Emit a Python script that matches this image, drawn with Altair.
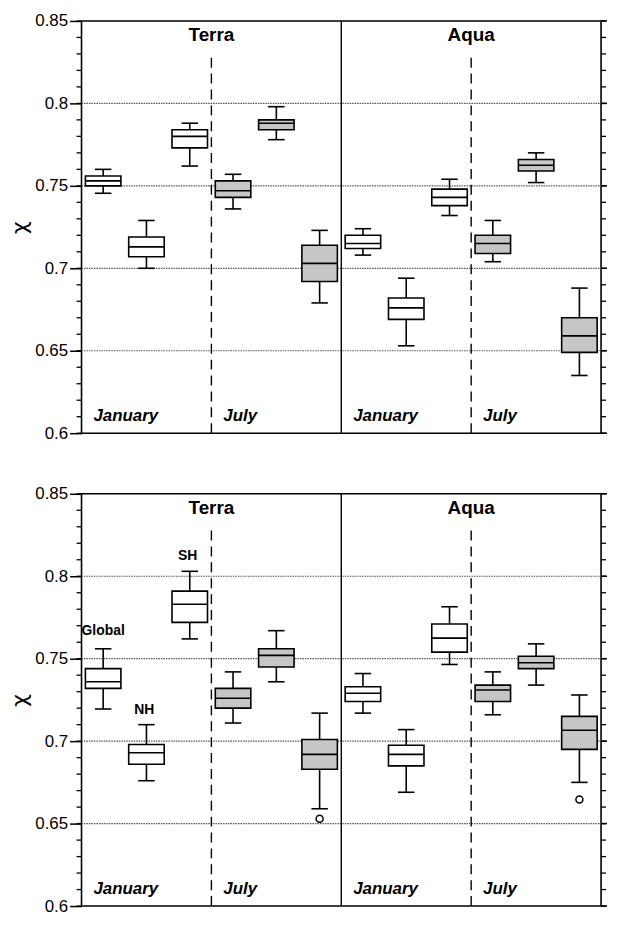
import altair as alt
import pandas as pd

# ---------------- data ----------------
satellites = ["Terra"] * 6 + ["Aqua"] * 6
months = (["January"] * 3 + ["July"] * 3) * 2
regions = ["Global", "NH", "SH"] * 4

# top panel (whisker low, Q1, median, Q3, whisker high)
top_lo  = [0.7455, 0.700, 0.762, 0.736, 0.778, 0.679, 0.708, 0.653, 0.732, 0.704, 0.752, 0.635]
top_q1  = [0.750, 0.707, 0.773, 0.743, 0.784, 0.692, 0.712, 0.669, 0.738, 0.709, 0.759, 0.649]
top_med = [0.753, 0.713, 0.780, 0.747, 0.788, 0.703, 0.715, 0.676, 0.743, 0.715, 0.7625, 0.659]
top_q3  = [0.756, 0.719, 0.784, 0.753, 0.790, 0.714, 0.720, 0.682, 0.748, 0.720, 0.766, 0.670]
top_hi  = [0.760, 0.729, 0.788, 0.757, 0.798, 0.723, 0.724, 0.694, 0.754, 0.729, 0.770, 0.688]

# bottom panel
bot_lo  = [0.7195, 0.676, 0.762, 0.711, 0.736, 0.659, 0.717, 0.669, 0.7465, 0.716, 0.734, 0.675]
bot_q1  = [0.732, 0.686, 0.772, 0.720, 0.745, 0.683, 0.724, 0.685, 0.754, 0.724, 0.744, 0.695]
bot_med = [0.736, 0.693, 0.783, 0.726, 0.752, 0.692, 0.729, 0.692, 0.7625, 0.731, 0.7475, 0.7066]
bot_q3  = [0.744, 0.698, 0.791, 0.732, 0.756, 0.701, 0.733, 0.6975, 0.771, 0.734, 0.7515, 0.715]
bot_hi  = [0.756, 0.710, 0.803, 0.742, 0.767, 0.717, 0.741, 0.707, 0.7815, 0.742, 0.759, 0.728]
bot_outlier_index = [5, 11]
bot_outlier_value = [0.653, 0.6646]

group_labels = ["January", "July", "January", "July"]
satellite_titles = ["Terra", "Aqua"]
region_label_values = [0.7665, 0.719, 0.8123]

y_ticks = [0.6, 0.65, 0.7, 0.75, 0.8, 0.85]
grid_values = [0.65, 0.7, 0.75, 0.8]
minor_ticks = [round(0.6 + 0.01 * i, 2) for i in range(26)]

# ---------------- style ----------------
W, H = 523, 415
FONT = "Liberation Sans"
GRAY = "#c6c6c6"
BOX_HALF = 0.41
CAP_HALF = 0.19
LW = 1.6

yscale = alt.Scale(domain=[0.6, 0.85], nice=False, zero=False)
xscale = alt.Scale(domain=[0, 12], nice=False, zero=False)


def panel(lo, q1, med, q3, hi, outliers=None, region_labels=False):
    pos = [i + 0.5 for i in range(12)]
    df = pd.DataFrame({
        "pos": pos, "lo": lo, "q1": q1, "med": med, "q3": q3, "hi": hi,
        "sat": satellites, "month": months, "region": regions,
    })
    df["fill"] = ["white" if m == "January" else GRAY for m in months]
    df["bl"] = df["pos"] - BOX_HALF
    df["br"] = df["pos"] + BOX_HALF
    df["cl"] = df["pos"] - CAP_HALF
    df["cr"] = df["pos"] + CAP_HALF

    base = alt.Chart(df)
    yax = alt.Axis(values=y_ticks, format=".2~f", tickSize=12, tickWidth=1.5,
                   tickColor="black", labelFontSize=17, labelFont=FONT,
                   labelColor="black", labelPadding=2, grid=False, domain=False,
                   title="χ", titleFontSize=22, titleFont="DejaVu Sans",
                   titleFontWeight="normal", titleColor="black", titlePadding=3)

    grid = alt.Chart(pd.DataFrame({"v": grid_values})).mark_rule(
        color="#555555", strokeDash=[1.5, 1], strokeWidth=1.2
    ).encode(y=alt.Y("v:Q", scale=yscale, axis=yax),
             x=alt.value(0), x2=alt.value(W))

    minor_df = pd.DataFrame({"v": minor_ticks})
    minor_df["major"] = [round(v * 100) % 5 == 0 for v in minor_ticks]
    left_minor = alt.Chart(minor_df).mark_rule(color="black", strokeWidth=1.3).encode(
        y=alt.Y("v:Q", scale=yscale), x=alt.value(-5), x2=alt.value(0))
    right_minor = alt.Chart(minor_df).mark_rule(color="black", strokeWidth=1.3).encode(
        y=alt.Y("v:Q", scale=yscale), x=alt.value(W), x2=alt.value(W + 5))
    right_major = alt.Chart(minor_df[minor_df["major"]]).mark_rule(
        color="black", strokeWidth=1.5).encode(
        y=alt.Y("v:Q", scale=yscale), x=alt.value(W), x2=alt.value(W + 6))

    vline_df = pd.DataFrame({"x": [6.0], "y1": [0.6], "y2": [0.85]})
    vsolid = alt.Chart(vline_df).mark_rule(color="black", strokeWidth=1.4).encode(
        x=alt.X("x:Q", scale=xscale, axis=None), y=alt.Y("y1:Q", scale=yscale),
        y2="y2:Q")
    dash_df = pd.DataFrame({"x": [3.0, 9.0], "y1": [0.6, 0.6], "y2": [0.8297, 0.8297]})
    vdash = alt.Chart(dash_df).mark_rule(color="black", strokeWidth=1.4,
                                         strokeDash=[10, 6]).encode(
        x=alt.X("x:Q", scale=xscale, axis=None), y=alt.Y("y1:Q", scale=yscale),
        y2="y2:Q")

    whisk_lo = base.mark_rule(color="black", strokeWidth=LW).encode(
        x=alt.X("pos:Q", scale=xscale, axis=None),
        y=alt.Y("lo:Q", scale=yscale), y2="q1:Q")
    whisk_hi = base.mark_rule(color="black", strokeWidth=LW).encode(
        x=alt.X("pos:Q", scale=xscale, axis=None),
        y=alt.Y("q3:Q", scale=yscale), y2="hi:Q")
    cap_lo = base.mark_rule(color="black", strokeWidth=LW).encode(
        x=alt.X("cl:Q", scale=xscale, axis=None), x2="cr:Q",
        y=alt.Y("lo:Q", scale=yscale))
    cap_hi = base.mark_rule(color="black", strokeWidth=LW).encode(
        x=alt.X("cl:Q", scale=xscale, axis=None), x2="cr:Q",
        y=alt.Y("hi:Q", scale=yscale))
    boxes = base.mark_rect(stroke="black", strokeWidth=LW).encode(
        x=alt.X("bl:Q", scale=xscale, axis=None), x2="br:Q",
        y=alt.Y("q1:Q", scale=yscale), y2="q3:Q",
        fill=alt.Fill("fill:N", scale=None))
    medians = base.mark_rule(color="black", strokeWidth=LW).encode(
        x=alt.X("bl:Q", scale=xscale, axis=None), x2="br:Q",
        y=alt.Y("med:Q", scale=yscale))

    sat_df = pd.DataFrame({"x": [3.0, 9.0], "y": [0.8415, 0.8415], "t": satellite_titles})
    sat_text = alt.Chart(sat_df).mark_text(fontSize=19, fontWeight="bold", font=FONT,
                                           color="black", align="center",
                                           baseline="middle").encode(
        x=alt.X("x:Q", scale=xscale, axis=None), y=alt.Y("y:Q", scale=yscale),
        text="t:N")
    mon_df = pd.DataFrame({"x": [0.0, 3.0, 6.0, 9.0], "y": [0.6105] * 4, "t": group_labels})
    mon_text = alt.Chart(mon_df).mark_text(fontSize=17, fontWeight="bold",
                                           fontStyle="italic", font=FONT, color="black",
                                           align="left", baseline="middle", dx=12).encode(
        x=alt.X("x:Q", scale=xscale, axis=None), y=alt.Y("y:Q", scale=yscale),
        text="t:N")

    layers = [grid, left_minor, right_minor, right_major, vsolid, vdash,
              whisk_lo, whisk_hi, cap_lo, cap_hi, boxes, medians, sat_text, mon_text]

    if outliers is not None:
        idx, vals = outliers
        odf = pd.DataFrame({"pos": [i + 0.5 for i in idx], "v": vals})
        layers.append(alt.Chart(odf).mark_point(shape="circle", filled=False, size=50,
                                                color="black", strokeWidth=1.5,
                                                opacity=1).encode(
            x=alt.X("pos:Q", scale=xscale, axis=None), y=alt.Y("v:Q", scale=yscale)))

    if region_labels:
        rdf = pd.DataFrame({"x": [0.5, 1.45, 2.45], "y": region_label_values,
                            "t": ["Global", "NH", "SH"]})
        layers.append(alt.Chart(rdf).mark_text(fontSize=14, fontWeight="bold", font=FONT,
                                               color="black", align="center",
                                               baseline="middle").encode(
            x=alt.X("x:Q", scale=xscale, axis=None), y=alt.Y("y:Q", scale=yscale),
            text="t:N"))

    return alt.layer(*layers).properties(width=W, height=H)


top = panel(top_lo, top_q1, top_med, top_q3, top_hi)
bottom = panel(bot_lo, bot_q1, bot_med, bot_q3, bot_hi,
               outliers=(bot_outlier_index, bot_outlier_value), region_labels=True)

chart = alt.vconcat(top, bottom, spacing=61, bounds="flush").properties(
    padding={"left": 0, "top": 0, "right": 0, "bottom": 0},
    background="white",
).configure_view(stroke="black", strokeWidth=1.6)

chart.save("out.html", embed_options={"renderer": "svg", "actions": False})
